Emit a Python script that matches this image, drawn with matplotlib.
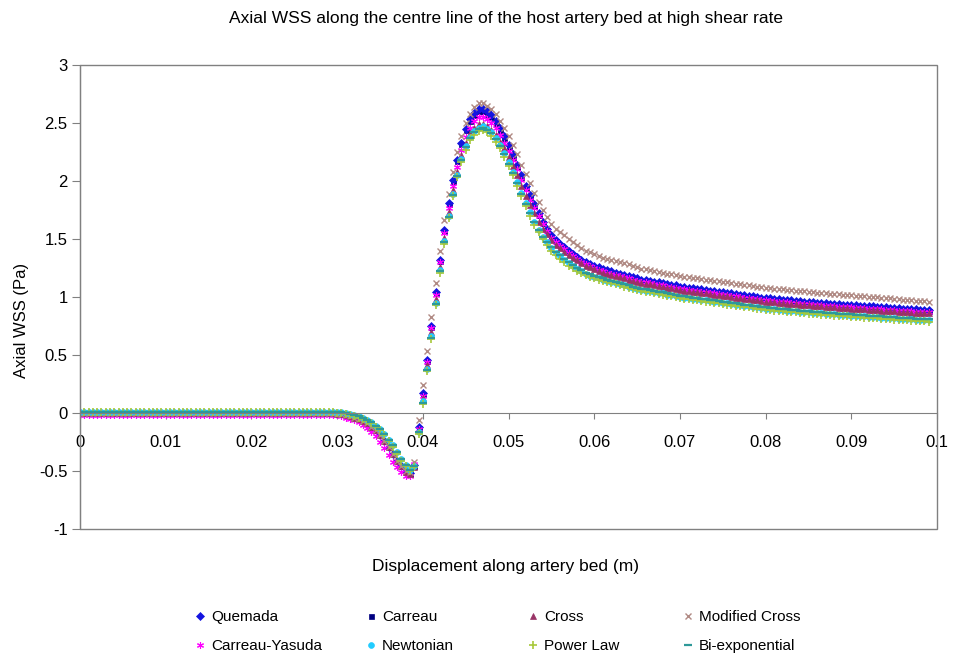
import matplotlib
matplotlib.use("Agg")
import matplotlib.pyplot as plt
import numpy as np
from matplotlib.patches import Rectangle

plt.rcParams['font.family'] = ['Liberation Sans', 'DejaVu Sans']

# mesh nodes along the artery bed, every 0.5 mm
x_m = np.round(np.arange(0, 0.09901, 0.0005), 4)

xtick_vals = [0, 0.01, 0.02, 0.03, 0.04, 0.05, 0.06, 0.07, 0.08, 0.09, 0.1]
xtick_labels = ['0', '0.01', '0.02', '0.03', '0.04', '0.05', '0.06', '0.07', '0.08', '0.09', '0.1']
ytick_vals = [-1, -0.5, 0, 0.5, 1, 1.5, 2, 2.5, 3]
ytick_labels = ['-1', '-0.5', '0', '0.5', '1', '1.5', '2', '2.5', '3']

# WSS (Pa); first 60 nodes (0 - 0.0295 m) are flat
quemada = [0.0] * 60 + [
    -0.01, -0.01, -0.02, -0.03, -0.04, -0.05, -0.07, -0.09, -0.12, -0.15,
    -0.19, -0.24, -0.29, -0.35, -0.41, -0.46, -0.50, -0.52, -0.45, -0.12,
    0.17, 0.46, 0.75, 1.04, 1.32, 1.58, 1.81, 2.01, 2.18, 2.33,
    2.45, 2.53, 2.59, 2.62, 2.62, 2.60, 2.57, 2.52, 2.46, 2.39,
    2.31, 2.23, 2.14, 2.05, 1.96, 1.88, 1.80, 1.72, 1.65, 1.59,
    1.53, 1.49, 1.46, 1.43, 1.40, 1.37, 1.345, 1.32, 1.30, 1.285,
    1.27, 1.255, 1.24, 1.23, 1.22, 1.21, 1.20, 1.19, 1.18, 1.17,
    1.16, 1.15, 1.145, 1.14, 1.13, 1.125, 1.12, 1.11, 1.105, 1.10,
    1.09, 1.085, 1.08, 1.075, 1.07, 1.065, 1.06, 1.055, 1.05, 1.045,
    1.04, 1.035, 1.03, 1.025, 1.02, 1.015, 1.01, 1.005, 1.00, 0.995,
    0.99, 0.987, 0.983, 0.98, 0.977, 0.973, 0.97, 0.967, 0.963, 0.96,
    0.957, 0.954, 0.951, 0.948, 0.945, 0.943, 0.94, 0.937, 0.935, 0.932,
    0.93, 0.928, 0.925, 0.923, 0.92, 0.918, 0.915, 0.913, 0.91, 0.908,
    0.905, 0.903, 0.90, 0.898, 0.896, 0.894, 0.892, 0.89, 0.888]

carreau = [0.0] * 60 + [
    -0.01, -0.01, -0.02, -0.03, -0.04, -0.05, -0.07, -0.09, -0.12, -0.15,
    -0.19, -0.24, -0.29, -0.35, -0.41, -0.46, -0.50, -0.53, -0.46, -0.13,
    0.16, 0.45, 0.74, 1.03, 1.31, 1.57, 1.80, 2.00, 2.17, 2.32,
    2.44, 2.52, 2.57, 2.60, 2.60, 2.58, 2.55, 2.50, 2.44, 2.37,
    2.29, 2.21, 2.12, 2.03, 1.94, 1.86, 1.78, 1.71, 1.64, 1.58,
    1.52, 1.48, 1.45, 1.42, 1.39, 1.36, 1.335, 1.31, 1.29, 1.275,
    1.26, 1.245, 1.23, 1.22, 1.21, 1.20, 1.19, 1.18, 1.17, 1.16,
    1.15, 1.14, 1.135, 1.13, 1.12, 1.115, 1.11, 1.10, 1.095, 1.09,
    1.08, 1.075, 1.07, 1.065, 1.06, 1.055, 1.05, 1.045, 1.04, 1.035,
    1.03, 1.025, 1.02, 1.015, 1.01, 1.005, 1.00, 0.995, 0.99, 0.985,
    0.98, 0.977, 0.973, 0.97, 0.967, 0.963, 0.96, 0.957, 0.953, 0.95,
    0.947, 0.944, 0.941, 0.938, 0.935, 0.933, 0.93, 0.927, 0.925, 0.922,
    0.92, 0.918, 0.915, 0.913, 0.91, 0.908, 0.905, 0.903, 0.90, 0.898,
    0.895, 0.893, 0.89, 0.888, 0.886, 0.884, 0.882, 0.88, 0.878]

cross = [0.0] * 60 + [
    -0.01, -0.01, -0.02, -0.03, -0.04, -0.05, -0.07, -0.09, -0.12, -0.15,
    -0.19, -0.24, -0.29, -0.35, -0.41, -0.46, -0.51, -0.53, -0.47, -0.15,
    0.13, 0.41, 0.70, 0.98, 1.26, 1.51, 1.73, 1.92, 2.08, 2.22,
    2.33, 2.41, 2.46, 2.49, 2.49, 2.47, 2.44, 2.40, 2.34, 2.28,
    2.21, 2.13, 2.05, 1.96, 1.87, 1.79, 1.72, 1.65, 1.59, 1.54,
    1.49, 1.45, 1.42, 1.39, 1.36, 1.34, 1.315, 1.29, 1.27, 1.255,
    1.24, 1.225, 1.21, 1.20, 1.19, 1.18, 1.17, 1.16, 1.15, 1.14,
    1.13, 1.12, 1.115, 1.11, 1.10, 1.095, 1.09, 1.08, 1.075, 1.07,
    1.06, 1.055, 1.05, 1.045, 1.04, 1.035, 1.03, 1.025, 1.02, 1.015,
    1.01, 1.005, 1.00, 0.995, 0.99, 0.985, 0.98, 0.975, 0.97, 0.965,
    0.96, 0.957, 0.953, 0.95, 0.947, 0.943, 0.94, 0.937, 0.933, 0.93,
    0.927, 0.924, 0.921, 0.918, 0.915, 0.913, 0.91, 0.907, 0.905, 0.902,
    0.90, 0.898, 0.895, 0.893, 0.89, 0.888, 0.885, 0.883, 0.88, 0.878,
    0.875, 0.873, 0.87, 0.868, 0.866, 0.864, 0.862, 0.86, 0.858]

modified_cross = [0.0] * 60 + [
    -0.01, -0.01, -0.02, -0.03, -0.04, -0.05, -0.07, -0.09, -0.12, -0.15,
    -0.19, -0.24, -0.29, -0.35, -0.41, -0.46, -0.50, -0.51, -0.42, -0.06,
    0.24, 0.53, 0.83, 1.12, 1.40, 1.66, 1.89, 2.08, 2.25, 2.39,
    2.50, 2.58, 2.64, 2.67, 2.67, 2.65, 2.62, 2.58, 2.52, 2.46,
    2.39, 2.31, 2.23, 2.14, 2.06, 1.98, 1.90, 1.82, 1.75, 1.69,
    1.63, 1.59, 1.56, 1.53, 1.50, 1.47, 1.445, 1.42, 1.40, 1.385,
    1.37, 1.355, 1.34, 1.33, 1.32, 1.31, 1.30, 1.29, 1.28, 1.265,
    1.255, 1.245, 1.24, 1.23, 1.22, 1.215, 1.21, 1.20, 1.195, 1.19,
    1.18, 1.175, 1.17, 1.165, 1.16, 1.155, 1.15, 1.145, 1.14, 1.135,
    1.13, 1.125, 1.12, 1.115, 1.11, 1.105, 1.10, 1.095, 1.09, 1.085,
    1.08, 1.077, 1.073, 1.07, 1.066, 1.062, 1.058, 1.055, 1.051, 1.048,
    1.044, 1.041, 1.038, 1.035, 1.032, 1.029, 1.026, 1.023, 1.02, 1.017,
    1.014, 1.011, 1.008, 1.005, 1.002, 0.999, 0.996, 0.993, 0.99, 0.987,
    0.984, 0.981, 0.978, 0.975, 0.972, 0.969, 0.966, 0.963, 0.96]

carreau_yasuda = [-0.015] * 60 + [
    -0.02, -0.03, -0.04, -0.05, -0.06, -0.08, -0.10, -0.13, -0.16, -0.20,
    -0.25, -0.30, -0.36, -0.42, -0.47, -0.51, -0.54, -0.54, -0.44, -0.14,
    0.15, 0.44, 0.73, 1.02, 1.30, 1.55, 1.77, 1.96, 2.12, 2.27,
    2.38, 2.46, 2.52, 2.55, 2.55, 2.53, 2.50, 2.46, 2.40, 2.33,
    2.26, 2.18, 2.10, 2.01, 1.92, 1.84, 1.77, 1.70, 1.63, 1.57,
    1.51, 1.47, 1.44, 1.41, 1.38, 1.35, 1.325, 1.30, 1.28, 1.265,
    1.25, 1.235, 1.22, 1.21, 1.20, 1.19, 1.18, 1.17, 1.16, 1.15,
    1.14, 1.13, 1.125, 1.12, 1.11, 1.105, 1.10, 1.09, 1.085, 1.08,
    1.07, 1.065, 1.06, 1.055, 1.05, 1.045, 1.04, 1.035, 1.03, 1.025,
    1.02, 1.015, 1.01, 1.005, 1.00, 0.995, 0.99, 0.985, 0.98, 0.975,
    0.97, 0.967, 0.963, 0.96, 0.957, 0.953, 0.95, 0.947, 0.943, 0.94,
    0.937, 0.934, 0.931, 0.928, 0.925, 0.923, 0.92, 0.917, 0.915, 0.912,
    0.91, 0.908, 0.905, 0.903, 0.90, 0.898, 0.895, 0.893, 0.89, 0.888,
    0.885, 0.883, 0.88, 0.878, 0.876, 0.874, 0.872, 0.87, 0.868]

newtonian = [0.01] * 60 + [
    0.01, 0.01, 0.00, -0.01, -0.02, -0.03, -0.04, -0.06, -0.08, -0.11,
    -0.14, -0.18, -0.23, -0.28, -0.34, -0.40, -0.45, -0.49, -0.46, -0.16,
    0.10, 0.38, 0.66, 0.95, 1.23, 1.48, 1.70, 1.89, 2.05, 2.19,
    2.30, 2.38, 2.43, 2.46, 2.47, 2.45, 2.42, 2.37, 2.31, 2.24,
    2.16, 2.08, 1.99, 1.90, 1.81, 1.73, 1.65, 1.58, 1.52, 1.47,
    1.42, 1.38, 1.35, 1.32, 1.29, 1.265, 1.24, 1.22, 1.20, 1.185,
    1.17, 1.16, 1.15, 1.14, 1.13, 1.12, 1.11, 1.10, 1.09, 1.08,
    1.07, 1.06, 1.055, 1.05, 1.04, 1.035, 1.03, 1.02, 1.015, 1.01,
    1.00, 0.995, 0.99, 0.985, 0.98, 0.975, 0.97, 0.965, 0.96, 0.955,
    0.95, 0.945, 0.94, 0.935, 0.93, 0.925, 0.92, 0.915, 0.91, 0.905,
    0.90, 0.897, 0.893, 0.89, 0.887, 0.883, 0.88, 0.877, 0.873, 0.87,
    0.867, 0.864, 0.861, 0.858, 0.855, 0.853, 0.85, 0.847, 0.845, 0.842,
    0.84, 0.838, 0.835, 0.833, 0.83, 0.828, 0.825, 0.823, 0.82, 0.818,
    0.815, 0.813, 0.81, 0.808, 0.806, 0.804, 0.802, 0.80, 0.798]

power_law = [0.005] * 60 + [
    0.00, 0.00, -0.01, -0.02, -0.03, -0.04, -0.05, -0.07, -0.09, -0.12,
    -0.15, -0.19, -0.24, -0.29, -0.35, -0.41, -0.46, -0.50, -0.47, -0.18,
    0.08, 0.36, 0.64, 0.93, 1.21, 1.46, 1.68, 1.87, 2.03, 2.16,
    2.27, 2.35, 2.40, 2.43, 2.44, 2.42, 2.39, 2.34, 2.28, 2.21,
    2.13, 2.05, 1.96, 1.87, 1.78, 1.70, 1.62, 1.56, 1.50, 1.45,
    1.40, 1.36, 1.33, 1.30, 1.27, 1.25, 1.225, 1.205, 1.19, 1.175,
    1.16, 1.15, 1.14, 1.13, 1.12, 1.11, 1.10, 1.09, 1.08, 1.07,
    1.06, 1.05, 1.045, 1.04, 1.03, 1.025, 1.02, 1.01, 1.005, 1.00,
    0.99, 0.985, 0.98, 0.975, 0.97, 0.965, 0.96, 0.955, 0.95, 0.945,
    0.94, 0.935, 0.93, 0.925, 0.92, 0.915, 0.91, 0.905, 0.90, 0.895,
    0.89, 0.887, 0.883, 0.88, 0.877, 0.873, 0.87, 0.867, 0.863, 0.86,
    0.857, 0.854, 0.851, 0.848, 0.845, 0.843, 0.84, 0.837, 0.835, 0.832,
    0.83, 0.828, 0.825, 0.823, 0.82, 0.818, 0.815, 0.813, 0.81, 0.808,
    0.805, 0.803, 0.80, 0.798, 0.796, 0.794, 0.792, 0.79, 0.788]

bi_exponential = [0.01] * 60 + [
    0.01, 0.01, 0.00, -0.01, -0.02, -0.03, -0.04, -0.06, -0.08, -0.11,
    -0.14, -0.18, -0.23, -0.28, -0.34, -0.40, -0.45, -0.49, -0.46, -0.16,
    0.09, 0.37, 0.65, 0.94, 1.22, 1.47, 1.69, 1.88, 2.04, 2.18,
    2.29, 2.37, 2.42, 2.45, 2.46, 2.44, 2.41, 2.36, 2.30, 2.23,
    2.15, 2.07, 1.98, 1.89, 1.80, 1.72, 1.65, 1.58, 1.52, 1.47,
    1.43, 1.39, 1.36, 1.33, 1.30, 1.275, 1.25, 1.23, 1.21, 1.195,
    1.18, 1.17, 1.16, 1.15, 1.14, 1.13, 1.12, 1.11, 1.10, 1.09,
    1.08, 1.07, 1.065, 1.06, 1.05, 1.045, 1.04, 1.03, 1.025, 1.02,
    1.01, 1.005, 1.00, 0.995, 0.99, 0.985, 0.98, 0.975, 0.97, 0.965,
    0.96, 0.955, 0.95, 0.945, 0.94, 0.935, 0.93, 0.925, 0.92, 0.915,
    0.91, 0.907, 0.903, 0.90, 0.897, 0.893, 0.89, 0.887, 0.883, 0.88,
    0.877, 0.874, 0.871, 0.868, 0.865, 0.863, 0.86, 0.857, 0.855, 0.852,
    0.85, 0.848, 0.845, 0.843, 0.84, 0.838, 0.835, 0.833, 0.83, 0.828,
    0.825, 0.823, 0.82, 0.818, 0.816, 0.814, 0.812, 0.81, 0.808]

grey = '#808080'

fig = plt.figure(figsize=(9.56, 6.59), dpi=100)
ax = fig.add_axes([0.0837, 0.1973, 0.8965, 0.7041])

# name, data, marker, size, colour, edge width  (drawing order)
styles = [
    ('Carreau', carreau, 's', 3.6, '#000080', 0.5),
    ('Quemada', quemada, 'D', 4.2, '#1414E0', 0.5),
    ('Carreau-Yasuda', carreau_yasuda, (6, 2, 0), 5.0, '#FF00FF', 0.8),
    ('Cross', cross, '^', 4.5, '#993366', 0.5),
    ('Modified Cross', modified_cross, 'x', 4.8, '#B08A84', 1.0),
    ('Newtonian', newtonian, 'o', 4.2, '#22CCFF', 0.5),
    ('Power Law', power_law, '+', 5.2, '#A8C83A', 1.2),
    ('Bi-exponential', bi_exponential, '_', 5.2, '#2E9999', 1.6),
]

handles = {}
for name, vals, mk, ms, col, mew in styles:
    h, = ax.plot(x_m, vals, linestyle='none', marker=mk, markersize=ms,
                 color=col, markeredgecolor=col, markeredgewidth=mew, label=name)
    handles[name] = h

ax.set_xlim(0, 0.1)
ax.set_ylim(-1, 3)
ax.set_xticks(xtick_vals)
ax.set_xticklabels(xtick_labels)
ax.set_yticks(ytick_vals)
ax.set_yticklabels(ytick_labels)

# x axis runs along y = 0, plot area keeps a grey box
ax.spines['bottom'].set_position(('data', 0))
for s in ['top', 'right']:
    ax.spines[s].set_visible(False)
ax.spines['bottom'].set_color(grey)
ax.spines['left'].set_color(grey)
ax.add_patch(Rectangle((0, 0), 1, 1, transform=ax.transAxes, fill=False,
                       edgecolor=grey, linewidth=1.0, clip_on=False, zorder=3))

ax.tick_params(axis='x', direction='out', length=4, color=grey, labelsize=12, pad=12)
ax.tick_params(axis='y', direction='out', length=6, color=grey, labelsize=12, pad=3)

fig.text(0.529, 1 - 18 / 659, 'Axial WSS along the centre line of the host artery bed at high shear rate',
         ha='center', va='center', fontsize=12.5)
fig.text(0.529, 1 - 567 / 659, 'Displacement along artery bed (m)',
         ha='center', va='center', fontsize=12.5)
fig.text(0.023, 1 - 320 / 659, 'Axial WSS (Pa)', rotation=90,
         ha='center', va='center', fontsize=12)

# legend: four columns of two entries
columns = [('Quemada', 'Carreau-Yasuda'), ('Carreau', 'Newtonian'),
           ('Cross', 'Power Law'), ('Modified Cross', 'Bi-exponential')]
col_left = [194, 365, 527, 682]
for names, left in zip(columns, col_left):
    fig.legend([handles[n] for n in names], list(names), loc='upper left',
               bbox_to_anchor=(left / 956, 1 - 610 / 659), frameon=False,
               fontsize=11, handlelength=0.8, handletextpad=0.3,
               borderpad=0, borderaxespad=0, labelspacing=1.0, numpoints=1)

fig.savefig('out.png', dpi=100)
